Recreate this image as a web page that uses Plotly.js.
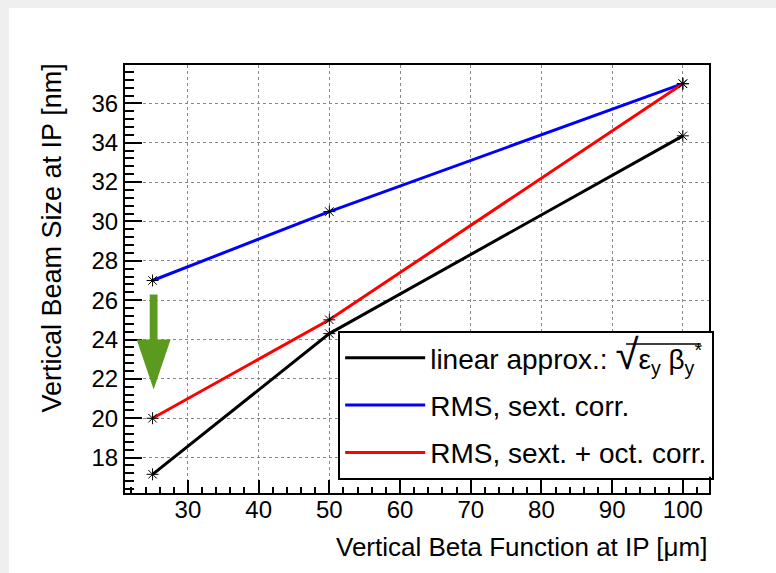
<!DOCTYPE html>
<html>
<head>
<meta charset="utf-8">
<script src="https://cdn.plot.ly/plotly-3.0.1.min.js"></script>
<style>
  html, body { margin: 0; padding: 0; background: #efefef; width: 776px; height: 573px; overflow: hidden; }
  #chart { position: absolute; left: 9px; top: 8px; width: 767px; height: 565px; background: #fff; }
</style>
</head>
<body>
<div id="chart"></div>
<script>
// ---- data ----
const betaY = [25, 50, 100];                 // vertical beta function at IP [um]
const linearApprox = [17.15, 24.3, 34.35];   // sqrt(eps_y beta_y*)
const rmsSext = [27.0, 30.5, 37.0];          // RMS, sext. corr.
const rmsSextOct = [20.0, 25.0, 37.0];       // RMS, sext. + oct. corr.
const seriesNames = [
  'linear approx.: <span style="font-size:42px">√</span>ε<sub>y</sub> β<sub>y</sub><sup>*</sup>',
  'RMS, sext. corr.',
  'RMS, sext. + oct. corr.'
];
const seriesColors = ['#000000', '#0000ff', '#ff0000'];
const seriesValues = [linearApprox, rmsSext, rmsSextOct];
const xTickVals = [30, 40, 50, 60, 70, 80, 90, 100];
const yTickVals = [18, 20, 22, 24, 26, 28, 30, 32, 34, 36];

const FONT = 'Liberation Sans, Arial, Helvetica, sans-serif';

const traces = [];
// lines (shown in legend)
seriesValues.forEach((vals, i) => {
  traces.push({
    x: betaY, y: vals, name: seriesNames[i], type: 'scatter', mode: 'lines',
    line: { color: seriesColors[i], width: 3 }, legendgroup: 'g' + i
  });
});
// star markers on top (not in legend)
seriesValues.forEach((vals, i) => {
  traces.push({
    x: betaY, y: vals, type: 'scatter', mode: 'markers', showlegend: false, hoverinfo: 'skip',
    marker: { symbol: 'asterisk-open', size: 10, color: '#000', line: { color: '#000', width: 1 } },
    legendgroup: 'g' + i
  });
});

// green arrow (decoration) in data units
const ax = 25.15, shaftHalf = 0.55, headHalf = 2.4, shaftTop = 26.29, headBase = 24.0, tip = 21.46;
const arrowPath = `M ${ax - shaftHalf} ${shaftTop} L ${ax + shaftHalf} ${shaftTop} L ${ax + shaftHalf} ${headBase} ` +
  `L ${ax + headHalf} ${headBase} L ${ax} ${tip} L ${ax - headHalf} ${headBase} L ${ax - shaftHalf} ${headBase} Z`;

const layout = {
  width: 767, height: 565,
  margin: { l: 116, r: 67, t: 57, b: 80 },
  paper_bgcolor: '#ffffff', plot_bgcolor: '#ffffff',
  font: { family: FONT, color: '#000', size: 24 },
  showlegend: true,
  legend: {
    x: 0.365, y: 0.3785, xanchor: 'left', yanchor: 'top',
    bgcolor: 'rgba(0,0,0,0)', bordercolor: '#000', borderwidth: 2,
    font: { family: FONT, size: 28, color: '#000' },
    traceorder: 'grouped', tracegroupgap: 8, itemwidth: 80
  },
  xaxis: {
    range: [21.1, 103.7], tickvals: xTickVals, ticks: 'inside', ticklen: 13, tickwidth: 2, tickcolor: '#000',
    showline: true, linewidth: 2, linecolor: '#000', mirror: true,
    showgrid: true, gridcolor: '#888', gridwidth: 1, griddash: 'dot', zeroline: false,
    tickfont: { family: FONT, size: 24 }, ticklabelstandoff: -6,
    minor: { tick0: 0, dtick: 2, ticks: 'inside', ticklen: 6, tickwidth: 2, tickcolor: '#000', showgrid: false }
  },
  yaxis: {
    range: [16.2, 37.95], tickvals: yTickVals, ticks: 'inside', ticklen: 17, tickwidth: 2, tickcolor: '#000',
    showline: true, linewidth: 2, linecolor: '#000', mirror: true,
    showgrid: true, gridcolor: '#888', gridwidth: 1, griddash: 'dot', zeroline: false,
    tickfont: { family: FONT, size: 24 },
    minor: { tick0: 0, dtick: 0.4, ticks: 'inside', ticklen: 9, tickwidth: 2, tickcolor: '#000', showgrid: false }
  },
  shapes: [
    { type: 'path', xref: 'x', yref: 'y', path: arrowPath, fillcolor: '#5a9b1f', line: { width: 0 } },
    // white background of the legend box (legend itself is transparent so the overline shows)
    { type: 'rect', xref: 'paper', yref: 'paper', x0: 0.3655, x1: 1.008, y0: 0.038, y1: 0.377,
      fillcolor: '#ffffff', line: { width: 0 }, layer: 'above' },
    // overline of the square-root sign in the legend
    { type: 'line', xref: 'paper', yref: 'paper', x0: 0.858, x1: 0.986, y0: 0.348, y1: 0.348,
      line: { color: '#000', width: 1.5 }, layer: 'above' }
  ],
  annotations: [
    { text: 'Vertical Beta Function at IP [μm]', xref: 'paper', yref: 'paper', x: 1, y: 0,
      xanchor: 'right', yanchor: 'top', yshift: -37, showarrow: false, font: { family: FONT, size: 26 } },
    { text: 'Vertical Beam Size at IP [nm]', xref: 'paper', yref: 'paper', x: 0, y: 1,
      xanchor: 'right', yanchor: 'top', xshift: -57, yshift: 3, textangle: -90, showarrow: false, font: { family: FONT, size: 27 } }
  ]
};

Plotly.newPlot('chart', traces, layout, { displayModeBar: false, staticPlot: true });
</script>
</body>
</html>
